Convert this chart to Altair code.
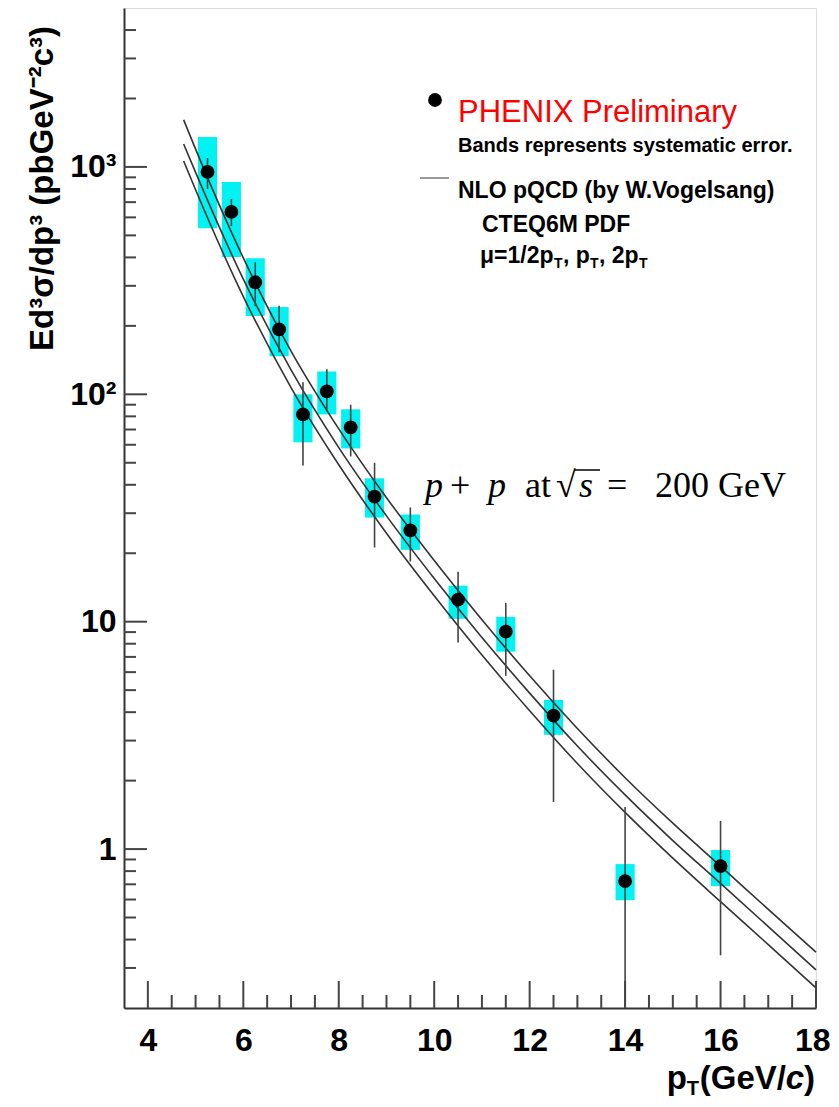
import altair as alt
import pandas as pd

# ---------------- data ----------------
pt = [5.25, 5.75, 6.25, 6.75, 7.25, 7.75, 8.25, 8.75, 9.5, 10.5, 11.5, 12.5, 14.0, 16.0]
xsec = [950, 634, 311, 193, 81.6, 103, 71.6, 35.5, 25.2, 12.5, 9.04, 3.86, 0.723, 0.842]
stat_hi = [1095, 723, 381, 245, 113, 129, 90, 50, 31.8, 16.6, 12.1, 6.15, 1.53, 1.33]
stat_lo = [800, 550, 244, 153, 48.6, 84, 53.3, 21.2, 18.4, 8.1, 5.78, 1.61, 0.1, 0.341]
sys_hi = [1355, 859, 397, 242, 100, 126, 85.9, 42.7, 29.6, 14.4, 10.5, 4.53, 0.859, 0.99]
sys_lo = [538, 402, 221, 147, 61.5, 81.6, 57.8, 28.7, 20.7, 10.3, 7.38, 3.18, 0.596, 0.687]

curve_pt = [4.75, 5, 6, 7, 8, 9, 10, 11, 12, 13, 14, 15, 16, 17, 18]
nlo_half_pt = [1611, 1197, 398, 155, 70.5, 35.1, 18.6, 10.2, 5.78, 3.39, 2.06, 1.30, 0.841, 0.543, 0.352]
nlo_one_pt = [1262, 946, 321, 128, 58.3, 29.2, 15.5, 8.53, 4.85, 2.84, 1.73, 1.09, 0.706, 0.456, 0.294]
nlo_two_pt = [1062, 794, 269, 107, 49.0, 24.5, 13.0, 7.13, 4.06, 2.38, 1.45, 0.912, 0.587, 0.380, 0.245]

x_major = [4, 6, 8, 10, 12, 14, 16, 18]
x_minor = [4.5, 5, 5.5, 6.5, 7, 7.5, 8.5, 9, 9.5, 10.5, 11, 11.5, 12.5, 13, 13.5,
           14.5, 15, 15.5, 16.5, 17, 17.5]
y_major = [1, 10, 100, 1000]
y_minor = [0.3, 0.4, 0.5, 0.6, 0.7, 0.8, 0.9,
           2, 3, 4, 5, 6, 7, 8, 9,
           20, 30, 40, 50, 60, 70, 80, 90,
           200, 300, 400, 500, 600, 700, 800, 900,
           2000, 3000, 4000]

y_title = "Ed³σ/dp³ (pbGeV⁻²c³)"
legend_title = "PHENIX Preliminary"
legend_note = "Bands represents systematic error."
theory_1 = "NLO pQCD (by W.Vogelsang)"
theory_2 = "CTEQ6M PDF"

# ---------------- frames ----------------
pts = pd.DataFrame({"pt": pt, "xsec": xsec, "stat_hi": stat_hi, "stat_lo": stat_lo,
                    "sys_hi": sys_hi, "sys_lo": sys_lo})
pts["x_lo"] = pts["pt"] - 0.2
pts["x_hi"] = pts["pt"] + 0.2

curves = pd.concat([
    pd.DataFrame({"pt": curve_pt, "v": nlo_half_pt, "mu": "half"}),
    pd.DataFrame({"pt": curve_pt, "v": nlo_one_pt, "mu": "one"}),
    pd.DataFrame({"pt": curve_pt, "v": nlo_two_pt, "mu": "two"}),
])

W, H = 692, 1000
xs = alt.Scale(domain=[3.5, 18], nice=False, zero=False)
ys = alt.Scale(type="log", domain=[0.2, 5000], nice=False)
FONT = "Liberation Sans"

x_axis = alt.Axis(values=x_major, ticks=False, tickSize=0, domain=True, domainColor="#333",
                  domainWidth=2, grid=False, labelFont=FONT, labelFontWeight="bold",
                  labelFontSize=32, labelColor="black", labelPadding=17, format="d",
                  title=None, labelFlush=True, labelFlushOffset=14)
y_axis = alt.Axis(values=y_major, ticks=False, tickSize=0, domain=True, domainColor="#333",
                  domainWidth=2, grid=False, labelFont=FONT, labelFontWeight="bold",
                  labelFontSize=32, labelColor="black", labelPadding=8,
                  labelExpr="datum.value == 1000 ? '10³' : datum.value == 100 ? '10²' : datum.value == 10 ? '10' : '1'",
                  title=y_title, titleFont=FONT, titleFontWeight="bold", titleFontSize=33,
                  titleColor="black", titleAngle=270, titleX=-72, titleY=180,
                  titleAlign="center", titleBaseline="alphabetic", labelFlush=False)


def X(field):
    return alt.X(field, scale=xs, axis=x_axis)


def Y(field):
    return alt.Y(field, scale=ys, axis=y_axis)


bands = alt.Chart(pts).mark_rect(color="#00F2F2").encode(
    x=X("x_lo:Q"), x2="x_hi:Q", y=Y("sys_lo:Q"), y2="sys_hi:Q")

lines = alt.Chart(curves).mark_line(color="#333", strokeWidth=1.6, interpolate="monotone").encode(
    x=X("pt:Q"), y=Y("v:Q"), detail="mu:N")

errs = alt.Chart(pts).mark_rule(color="#444", strokeWidth=1.6, clip=True).encode(
    x=X("pt:Q"), y=Y("stat_lo:Q"), y2="stat_hi:Q")

dots = alt.Chart(pts).mark_circle(color="black", opacity=1, size=190).encode(
    x=X("pt:Q"), y=Y("xsec:Q"))


# inward ticks
def xticks(vals, length):
    return alt.Chart(pd.DataFrame({"v": vals})).mark_rule(color="#444", strokeWidth=2).encode(
        x=X("v:Q"), y=alt.value(H), y2=alt.value(H - length))


def yticks(vals, length):
    return alt.Chart(pd.DataFrame({"v": vals})).mark_rule(color="#444", strokeWidth=2).encode(
        y=Y("v:Q"), x=alt.value(0), x2=alt.value(length))


ticks = [xticks(x_major, 27), xticks(x_minor, 13), yticks(y_major, 23), yticks(y_minor, 12)]

# annotations
one = pd.DataFrame({"k": [0]})


def txt(s, x, y, size, weight="normal", style="normal", color="black", font=FONT, align="left"):
    return alt.Chart(one).mark_text(text=s, align=align, baseline="alphabetic", fontSize=size,
                                    fontWeight=weight, fontStyle=style, color=color,
                                    font=font).encode(x=alt.value(x), y=alt.value(y))


ann = []
# legend
ann.append(alt.Chart(one).mark_circle(color="black", opacity=1, size=190).encode(
    x=alt.value(311), y=alt.value(92)))
ann.append(txt(legend_title, 334, 114, 31, color="#FF0000"))
ann.append(txt(legend_note, 334, 144, 20, weight="bold"))
ann.append(alt.Chart(one).mark_rule(color="#777", strokeWidth=1.5).encode(
    x=alt.value(296), x2=alt.value(325), y=alt.value(170)))
ann.append(txt(theory_1, 334, 190, 23, weight="bold"))
ann.append(txt(theory_2, 358, 224, 23, weight="bold"))
# mu = 1/2 pT, pT, 2pT
ann.append(txt("μ=1/2p", 356, 255, 23, weight="bold"))
ann.append(txt("T", 430, 260, 14, weight="bold"))
ann.append(txt(", p", 439, 255, 23, weight="bold"))
ann.append(txt("T", 466, 260, 14, weight="bold"))
ann.append(txt(", 2p", 475, 255, 23, weight="bold"))
ann.append(txt("T", 515, 260, 14, weight="bold"))

# p + p at sqrt(s) = 200 GeV
SERIF = "Liberation Serif"
ann.append(txt("p", 301, 489, 36, style="italic", font=SERIF))
ann.append(txt("+", 326, 489, 36, font=SERIF))
ann.append(txt("p", 364, 489, 36, style="italic", font=SERIF))
ann.append(txt("at", 401, 489, 36, font=SERIF))
ann.append(txt("√", 432, 489, 36, font=SERIF))
ann.append(txt("s", 455, 489, 36, style="italic", font=SERIF))
ann.append(txt("=", 483, 489, 36, font=SERIF))
ann.append(txt("200", 531, 489, 36, font=SERIF))
ann.append(txt("GeV", 594, 489, 36, font=SERIF))
ann.append(alt.Chart(one).mark_rule(color="black", strokeWidth=1.5).encode(
    x=alt.value(451), x2=alt.value(476), y=alt.value(462)))

# x axis title  pT(GeV/c)
XT_Y = 1081
ann.append(txt(")", 691, XT_Y, 33, weight="bold", align="right"))
ann.append(txt("c", 680, XT_Y, 33, weight="bold", style="italic", align="right"))
ann.append(txt("(GeV/", 662, XT_Y, 33, weight="bold", align="right"))
ann.append(txt("T", 575, XT_Y + 6, 20, weight="bold", align="right"))
ann.append(txt("p", 563, XT_Y, 33, weight="bold", align="right"))

chart = alt.layer(bands, lines, errs, dots, *ticks, *ann).properties(
    width=W, height=H,
    autosize=alt.AutoSizeParams(type="none"),
    padding={"left": 116, "top": 0, "right": 15, "bottom": 91},
).configure_view(stroke="#555", strokeWidth=1.5).configure(background="white")

chart.save("out.html", embed_options={"renderer": "svg", "actions": False})
